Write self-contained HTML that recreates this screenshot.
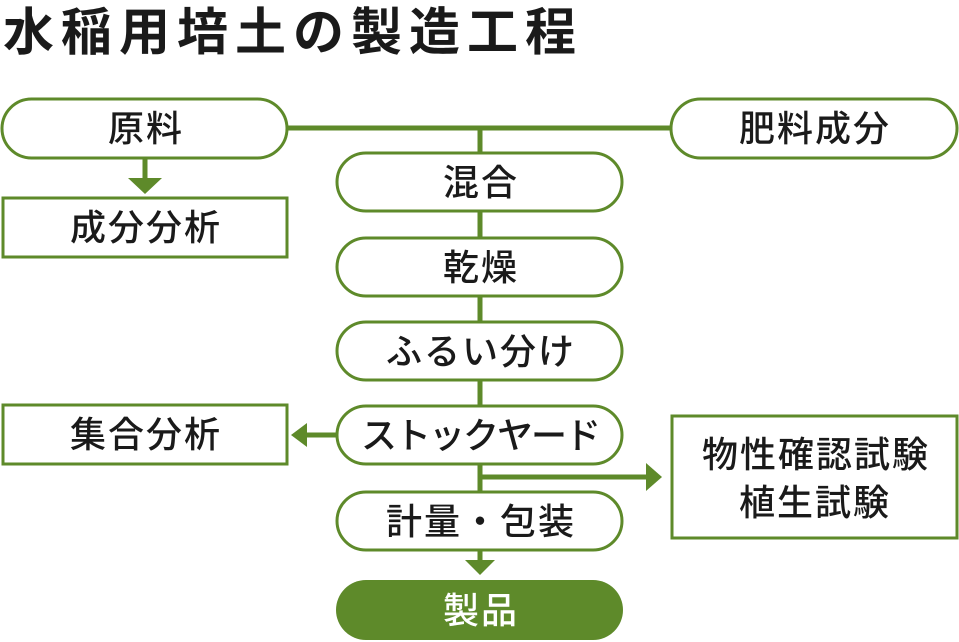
<!DOCTYPE html>
<html><head><meta charset="utf-8"><style>
html,body{margin:0;padding:0;background:#fff;width:959px;height:642px;overflow:hidden}
svg text{font-family:"Liberation Sans","Noto Sans CJK JP",sans-serif;fill:#1a1a1a;font-weight:500}
</style></head><body>
<svg width="959" height="642" viewBox="0 0 959 642" xmlns="http://www.w3.org/2000/svg">
<text x="3" y="50" font-size="51" letter-spacing="7" style="font-weight:700">水稲用培土の製造工程</text>
<g stroke="#5e8a2a" stroke-width="5" fill="none">
<line x1="287" y1="128" x2="671" y2="128"/>
<line x1="480" y1="128" x2="480" y2="565"/>
<line x1="145" y1="158" x2="145" y2="180"/>
<line x1="337" y1="435" x2="305" y2="435"/>
<line x1="480" y1="477" x2="648" y2="477"/>
</g>
<g fill="#5e8a2a">
<polygon points="128,178 162,178 145,194"/>
<polygon points="307,423 307,447 291,435"/>
<polygon points="646,463 646,491 662,477"/>
<polygon points="465,560 495,560 480,575"/>
</g>
<g stroke="#5e8a2a" stroke-width="3" fill="#fff">
<rect x="2" y="99" width="285" height="59" rx="29.5"/>
<rect x="671" y="99" width="286" height="59" rx="29.5"/>
<rect x="3" y="198" width="284" height="59"/>
<rect x="337" y="153" width="285" height="58" rx="29"/>
<rect x="337" y="238" width="285" height="58" rx="29"/>
<rect x="337" y="322" width="285" height="58" rx="29"/>
<rect x="337" y="406" width="285" height="58" rx="29"/>
<rect x="337" y="492" width="285" height="58" rx="29"/>
<rect x="3" y="405" width="284" height="59"/>
<rect x="672" y="416" width="285" height="122"/>
</g>
<rect x="336" y="580" width="287" height="60" rx="30" fill="#5e8a2a"/>
<g font-size="36" text-anchor="middle" letter-spacing="2">
<text x="146" y="141">原料</text>
<text x="815" y="141">肥料成分</text>
<text x="146" y="240">成分分析</text>
<text x="481" y="195">混合</text>
<text x="481" y="280">乾燥</text>
<text x="481" y="364">ふるい分け</text>
<text x="480" y="448" letter-spacing="-2">ストックヤード</text>
<text x="481" y="534">計量・包装</text>
<text x="146" y="447">集合分析</text>
<text x="816" y="467">物性確認試験</text>
<text x="815" y="515">植生試験</text>
<text x="481" y="623" style="fill:#fff">製品</text>
</g>
</svg>
</body></html>
